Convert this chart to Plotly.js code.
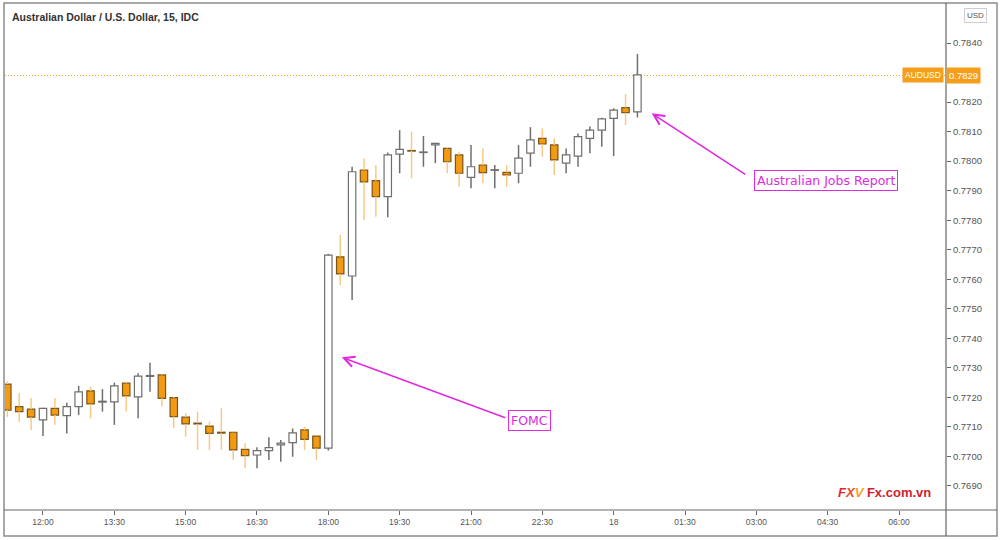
<!DOCTYPE html>
<html><head><meta charset="utf-8">
<script src="https://cdn.plot.ly/plotly-3.0.1.min.js"></script>
<style>html,body{margin:0;padding:0;background:#fff;}#chart{width:1000px;height:540px;}</style>
</head><body><div id="chart"></div>
<script>
const times = [
 '2021-03-17 11:15','2021-03-17 11:30','2021-03-17 11:45','2021-03-17 12:00','2021-03-17 12:15','2021-03-17 12:30',
 '2021-03-17 12:45','2021-03-17 13:00','2021-03-17 13:15','2021-03-17 13:30','2021-03-17 13:45','2021-03-17 14:00',
 '2021-03-17 14:15','2021-03-17 14:30','2021-03-17 14:45','2021-03-17 15:00','2021-03-17 15:15','2021-03-17 15:30',
 '2021-03-17 15:45','2021-03-17 16:00','2021-03-17 16:15','2021-03-17 16:30','2021-03-17 16:45','2021-03-17 17:00',
 '2021-03-17 17:15','2021-03-17 17:30','2021-03-17 17:45','2021-03-17 18:00','2021-03-17 18:15','2021-03-17 18:30',
 '2021-03-17 18:45','2021-03-17 19:00','2021-03-17 19:15','2021-03-17 19:30','2021-03-17 19:45','2021-03-17 20:00',
 '2021-03-17 20:15','2021-03-17 20:30','2021-03-17 20:45','2021-03-17 21:00','2021-03-17 21:15','2021-03-17 21:30',
 '2021-03-17 21:45','2021-03-17 22:00','2021-03-17 22:15','2021-03-17 22:30','2021-03-17 22:45','2021-03-17 23:00',
 '2021-03-17 23:15','2021-03-17 23:30','2021-03-17 23:45','2021-03-18 00:00','2021-03-18 00:15','2021-03-18 00:30'];
const opens = [
 0.77245,0.77169,0.77160,0.77124,0.77163,0.77138,0.77169,0.77222,0.77184,0.77185,0.77248,0.77202,
 0.77271,0.77276,0.77199,0.77133,0.77113,0.77103,0.77082,0.77082,0.77024,0.77005,0.77020,0.77039,
 0.77047,0.77090,0.77069,0.77028,0.77676,0.77611,0.77970,0.77934,0.77880,0.78024,0.78036,0.78029,
 0.78055,0.78043,0.78021,0.77945,0.77987,0.77969,0.77962,0.77959,0.78027,0.78077,0.78055,0.77993,
 0.78017,0.78077,0.78105,0.78145,0.78181,0.78167];
const highs = [
 0.77255,0.77215,0.77198,0.77165,0.77198,0.77182,0.77239,0.77236,0.77228,0.77250,0.77253,0.77282,
 0.77317,0.77278,0.77201,0.77146,0.77152,0.77118,0.77163,0.77084,0.77045,0.77031,0.77065,0.77056,
 0.77095,0.77101,0.77071,0.77686,0.77750,0.77981,0.78010,0.77987,0.78029,0.78105,0.78100,0.78085,
 0.78062,0.78045,0.78032,0.78055,0.78043,0.77987,0.77987,0.78055,0.78115,0.78111,0.78077,0.78043,
 0.78094,0.78117,0.78147,0.78179,0.78227,0.78363];
const lows = [
 0.77134,0.77117,0.77090,0.77069,0.77107,0.77078,0.77140,0.77129,0.77152,0.77107,0.77152,0.77129,
 0.77219,0.77169,0.77096,0.77067,0.77022,0.77022,0.77022,0.76988,0.76960,0.76960,0.76988,0.76982,
 0.76999,0.77022,0.76988,0.77020,0.77581,0.77530,0.77801,0.77812,0.77810,0.77959,0.77942,0.77981,
 0.77993,0.77959,0.77913,0.77908,0.77925,0.77908,0.77913,0.77925,0.77981,0.78015,0.77953,0.77959,
 0.77981,0.78027,0.78049,0.78017,0.78122,0.78148];
const closes = [
 0.77157,0.77152,0.77133,0.77163,0.77140,0.77169,0.77219,0.77178,0.77187,0.77239,0.77205,0.77272,
 0.77274,0.77197,0.77135,0.77110,0.77110,0.77078,0.77079,0.77022,0.77003,0.77020,0.77030,0.77045,
 0.77080,0.77058,0.77028,0.77682,0.77618,0.77964,0.77930,0.77880,0.78021,0.78040,0.78034,0.78031,
 0.78060,0.77998,0.77959,0.77981,0.77961,0.77971,0.77953,0.78010,0.78072,0.78058,0.78004,0.78021,
 0.78083,0.78105,0.78143,0.78173,0.78164,0.78292];

const xTickVals = ['2021-03-17 12:00','2021-03-17 13:30','2021-03-17 15:00','2021-03-17 16:30','2021-03-17 18:00',
 '2021-03-17 19:30','2021-03-17 21:00','2021-03-17 22:30','2021-03-18 00:00','2021-03-18 01:30','2021-03-18 03:00',
 '2021-03-18 04:30','2021-03-18 06:00'];
const xTickText = ['12:00','13:30','15:00','16:30','18:00','19:30','21:00','22:30','18','01:30','03:00','04:30','06:00'];
const yTickVals = [0.7840,0.7820,0.7810,0.7800,0.7790,0.7780,0.7770,0.7760,0.7750,0.7740,0.7730,0.7720,0.7710,0.7700,0.7690];
const yTickText = ['0.7840','0.7820','0.7810','0.7800','0.7790','0.7780','0.7770','0.7760','0.7750','0.7740','0.7730','0.7720','0.7710','0.7700','0.7690'];
const symbol = 'AUDUSD';
const lastPrice = 0.7829;
const chartTitle = 'Australian Dollar / U.S. Dollar, 15, IDC';
const eventLabels = ['FOMC', 'Australian Jobs Report'];
const eventTimes = ['2021-03-17 18:17', '2021-03-18 00:48'];
const eventPrices = [0.77336, 0.78162];

// derived
const upC = '#6f6f6f', upFill = '#ffffff';
const dnFill = '#f29a12', dnLine = '#7a5418', dnWick = '#f8c985';
const isUp = opens.map((o,i)=>closes[i]>=o);
const bodyBase = opens.map((o,i)=>Math.min(o,closes[i]));
const bodyH = opens.map((o,i)=>Math.abs(closes[i]-o));
const upX=[],upY=[],dnX=[],dnY=[];
times.forEach((t,i)=>{
  const top=Math.max(opens[i],closes[i]), bot=Math.min(opens[i],closes[i]);
  const X = isUp[i]?upX:dnX, Y = isUp[i]?upY:dnY;
  X.push(t,t,null,t,t,null); Y.push(highs[i],top,null,bot,lows[i],null);
});

const traces = [
 {type:'bar', x:times, base:bodyBase, y:bodyH, width:560000,
  marker:{color:isUp.map(u=>u?upFill:dnFill), line:{color:isUp.map(u=>u?upC:dnLine), width:1.2}},
  hoverinfo:'skip'},
 {type:'scatter', mode:'lines', x:upX, y:upY, line:{color:upC, width:1.5}, hoverinfo:'skip'},
 {type:'scatter', mode:'lines', x:dnX, y:dnY, line:{color:dnWick, width:1.5}, hoverinfo:'skip'}
];

const px2x = p => (p-5)/941, py2y = p => (510-p)/505;
const mag = '#e02ae0';
const layout = {
  width:1000, height:540, margin:{l:5,r:54,t:5,b:30},
  paper_bgcolor:'#fff', plot_bgcolor:'#fff', showlegend:false, bargap:0,
  title:{text:'<b>'+chartTitle+'</b>', x:0.012, xanchor:'left', y:0.968, yanchor:'middle',
         font:{family:'Liberation Sans, Arial', size:10.5, color:'#333'}},
  xaxis:{type:'date', range:['2021-03-17 11:12:04','2021-03-18 06:59:18'], showgrid:false, zeroline:false, showline:false,
         tickmode:'array', tickvals:xTickVals, ticktext:xTickText, ticks:'outside', ticklen:4, tickcolor:'#666',
         tickfont:{family:'Liberation Sans, Arial', size:8.5, color:'#555'}},
  yaxis:{side:'right', range:[0.768187,0.785287], showgrid:false, zeroline:false, showline:false,
         tickmode:'array', tickvals:yTickVals, ticktext:yTickText, ticks:'outside', ticklen:4, tickcolor:'#666',
         tickfont:{family:'Liberation Sans, Arial', size:9.5, color:'#555'}},
  shapes:[
   {type:'line', xref:'paper', yref:'y', x0:0, x1:1, y0:lastPrice, y1:lastPrice, line:{color:'#f5a331', width:1.2, dash:'1px,2px'}, layer:'below'},
   {type:'rect', xref:'paper', yref:'paper', x0:px2x(4), x1:px2x(997), y0:py2y(536), y1:py2y(3), line:{color:'#8c8c8c', width:1.5}, fillcolor:'rgba(0,0,0,0)'},
   {type:'line', xref:'paper', yref:'paper', x0:1, x1:1, y0:py2y(536), y1:py2y(3), line:{color:'#666', width:1.2}},
   {type:'line', xref:'paper', yref:'paper', x0:px2x(4), x1:px2x(997), y0:0, y1:0, line:{color:'#666', width:1.2}}
  ],
  annotations:[
   {xref:'paper', yref:'y', x:1, y:lastPrice, xanchor:'right', yanchor:'middle', xshift:-2, text:symbol, showarrow:false,
    bgcolor:'#f59e1a', borderpad:2, font:{family:'Liberation Sans, Arial', size:8.5, color:'#fff'}},
   {xref:'paper', yref:'y', x:1, y:lastPrice, xanchor:'left', yanchor:'middle', xshift:0, text:lastPrice.toFixed(4), showarrow:false,
    bgcolor:'#f59e1a', borderpad:2, font:{family:'Liberation Sans, Arial', size:9.5, color:'#fff'}},
   {xref:'paper', yref:'paper', x:px2x(975), y:py2y(15), xanchor:'center', yanchor:'middle', text:'USD', showarrow:false,
    bordercolor:'#cfcfcf', borderwidth:1, borderpad:2, font:{family:'Liberation Sans, Arial', size:8, color:'#555'}},
   {xref:'x', yref:'y', x:eventTimes[0], y:eventPrices[0], ax:165, ay:61, text:'', showarrow:true,
    arrowcolor:mag, arrowwidth:1.6, arrowhead:5, arrowsize:1.3},
   {xref:'x', yref:'y', x:eventTimes[1], y:eventPrices[1], ax:95, ay:62, text:'', showarrow:true,
    arrowcolor:mag, arrowwidth:1.6, arrowhead:5, arrowsize:1.3},
   {xref:'paper', yref:'paper', x:px2x(529), y:py2y(420), xanchor:'center', yanchor:'middle', text:eventLabels[0], showarrow:false, bgcolor:'#fff',
    bordercolor:mag, borderwidth:1, borderpad:2, font:{family:'DejaVu Sans', size:12.5, color:mag}},
   {xref:'paper', yref:'paper', x:px2x(826), y:py2y(180), xanchor:'center', yanchor:'middle', text:eventLabels[1], showarrow:false, bgcolor:'#fff',
    bordercolor:mag, borderwidth:1, borderpad:2, font:{family:'DejaVu Sans', size:12.5, color:mag}},
   {xref:'paper', yref:'paper', x:px2x(884), y:py2y(492), xanchor:'center', yanchor:'middle',
    text:'<b><i><span style="color:#e3262d">F</span><span style="color:#ee4a24">X</span><span style="color:#f6a21c">V</span></i></b> <b><span style="color:#cf1f2e">Fx.com.vn</span></b>',
    showarrow:false, font:{family:'Liberation Sans, Arial', size:13}}
  ]
};
Plotly.newPlot('chart', traces, layout, {displayModeBar:false, staticPlot:true});
</script></body></html>
